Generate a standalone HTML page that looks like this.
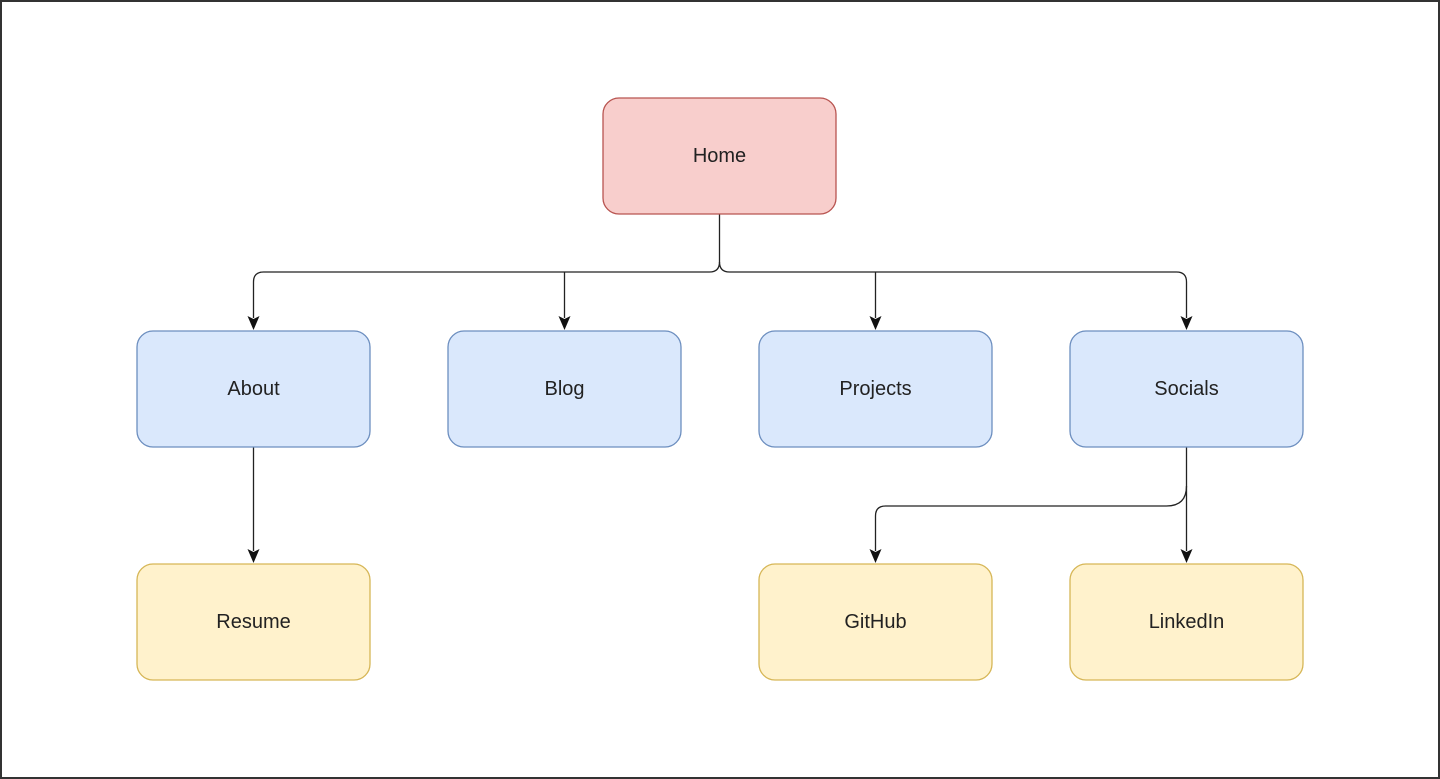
<!DOCTYPE html>
<html><head><style>
html,body{margin:0;padding:0;background:#fff;}
svg{display:block;}
text{font-family:"Liberation Sans",sans-serif;font-size:20px;fill:#222;text-anchor:middle;dominant-baseline:central;}
</style></head><body>
<svg width="1440" height="779" viewBox="0 0 1440 779">
<rect x="1" y="1" width="1438" height="777" fill="#fff" stroke="#333" stroke-width="2"/>
<defs><marker id="a" markerWidth="10" markerHeight="10" refX="5" refY="9" orient="auto" markerUnits="userSpaceOnUse" viewBox="0 0 10 10"><path d="M0,0 L5,3 L10,0 L5,10 Z" fill="#111" transform="rotate(-90 5 5)"/></marker></defs>
<g fill="none" stroke="#222" stroke-width="1.3">
<path d="M719.5 214 V262 Q719.5 272 709.5 272 H263.5 Q253.5 272 253.5 282 V318"/>
<path d="M719.5 262 Q719.5 272 729.5 272 H1176.5 Q1186.5 272 1186.5 282 V318"/>
<path d="M564.5 272 V318"/>
<path d="M875.5 272 V318"/>
<path d="M253.5 447 V551"/>
<path d="M1186.5 447 V551"/>
<path d="M1186.5 486 Q1186.5 506 1166.5 506 H885.5 Q875.5 506 875.5 516 V551"/>
</g>
<g fill="#111">
<path d="M247.5 316 L253.5 319 L259.5 316 L253.5 330 Z"/>
<path d="M558.5 316 L564.5 319 L570.5 316 L564.5 330 Z"/>
<path d="M869.5 316 L875.5 319 L881.5 316 L875.5 330 Z"/>
<path d="M1180.5 316 L1186.5 319 L1192.5 316 L1186.5 330 Z"/>
<path d="M247.5 549 L253.5 552 L259.5 549 L253.5 563 Z"/>
<path d="M869.5 549 L875.5 552 L881.5 549 L875.5 563 Z"/>
<path d="M1180.5 549 L1186.5 552 L1192.5 549 L1186.5 563 Z"/>
</g>
<rect x="603" y="98" width="233" height="116" rx="16" fill="#f8cecc" stroke="#b85450" stroke-width="1.3"/>
<text x="719.5" y="156">Home</text>
<g fill="#dae8fc" stroke="#6c8ebf" stroke-width="1.3">
<rect x="137" y="331" width="233" height="116" rx="16"/>
<rect x="448" y="331" width="233" height="116" rx="16"/>
<rect x="759" y="331" width="233" height="116" rx="16"/>
<rect x="1070" y="331" width="233" height="116" rx="16"/>
</g>
<g fill="#fff2cc" stroke="#d6b656" stroke-width="1.3">
<rect x="137" y="564" width="233" height="116" rx="16"/>
<rect x="759" y="564" width="233" height="116" rx="16"/>
<rect x="1070" y="564" width="233" height="116" rx="16"/>
</g>
<text x="253.5" y="389">About</text>
<text x="564.5" y="389">Blog</text>
<text x="875.5" y="389">Projects</text>
<text x="1186.5" y="389">Socials</text>
<text x="253.5" y="622">Resume</text>
<text x="875.5" y="622">GitHub</text>
<text x="1186.5" y="622">LinkedIn</text>
</svg>
</body></html>
